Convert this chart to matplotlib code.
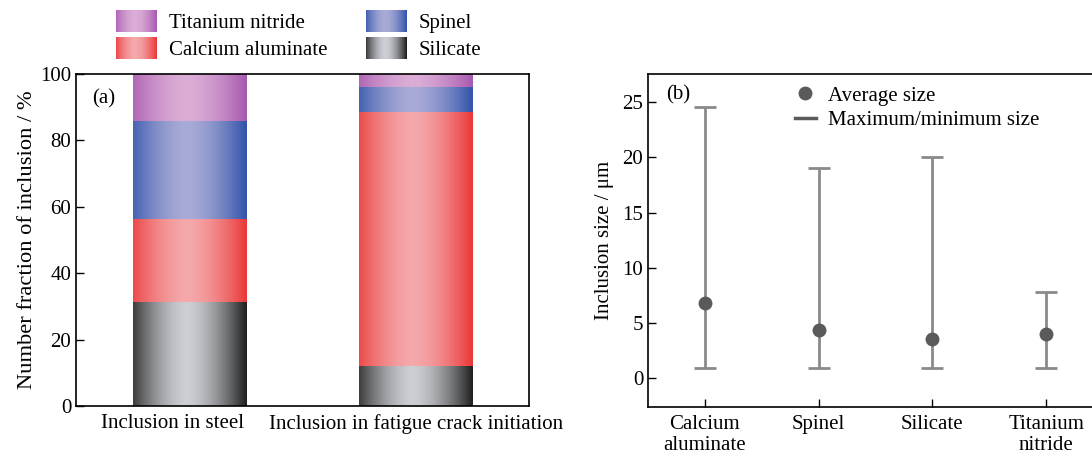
import numpy as np
import matplotlib
matplotlib.use("Agg")
import matplotlib.pyplot as plt
from matplotlib.patches import Rectangle
from matplotlib.legend_handler import HandlerBase
from matplotlib.lines import Line2D
from matplotlib.transforms import ScaledTranslation

plt.rcParams['font.family'] = ['Liberation Serif', 'DejaVu Serif']
plt.rcParams['mathtext.fontset'] = 'stix'

# ---------------- data ----------------
groups = ["Inclusion in steel", "Inclusion in fatigue crack initiation"]
stack_names = ["Silicate", "Calcium aluminate", "Spinel", "Titanium nitride"]
silicate = [31.3, 12.1]
calcium_aluminate = [25.1, 76.6]
spinel = [29.5, 7.4]
titanium_nitride = [14.1, 3.9]

size_types = ["Calcium\naluminate", "Spinel", "Silicate", "Titanium\nnitride"]
avg_size = [6.8, 4.35, 3.55, 4.05]
max_size = [24.6, 19.05, 20.05, 7.85]
min_size = [0.9, 0.9, 0.9, 0.9]

# gradient colours: (edge, centre)
grad_cols = {
    "Silicate": ((0.13, 0.13, 0.13), (0.80, 0.81, 0.83)),
    "Calcium aluminate": ((0.92, 0.22, 0.22), (0.96, 0.66, 0.67)),
    "Spinel": ((0.20, 0.33, 0.67), (0.66, 0.67, 0.84)),
    "Titanium nitride": ((0.66, 0.35, 0.69), (0.86, 0.68, 0.84)),
}


def grad_row(name, n=64):
    e, c = np.array(grad_cols[name][0]), np.array(grad_cols[name][1])
    x = np.linspace(0, 1, n)
    t = np.abs(x - 0.47) / 0.53
    t = np.clip(t, 0, 1) ** 1.6
    return c[None, :] + (e - c)[None, :] * t[:, None]


FS = 15
fig = plt.figure(figsize=(10.92, 4.55), dpi=100)
axa = fig.add_axes([76 / 1092, 1 - 406 / 455, 453 / 1092, 332 / 455])
axb = fig.add_axes([648 / 1092, 1 - 406.5 / 455, 455 / 1092, 332.5 / 455])

# ---------------- panel (a) ----------------
xpos = np.arange(len(groups))
bottom = np.zeros(len(groups))
series = {"Silicate": silicate, "Calcium aluminate": calcium_aluminate,
          "Spinel": spinel, "Titanium nitride": titanium_nitride}
for name in stack_names:
    vals = np.array(series[name])
    bars = axa.bar(xpos, vals, 0.5, bottom=bottom, color=grad_cols[name][0],
                   linewidth=0, zorder=1)
    img = grad_row(name)[None, :, :]
    for r in bars:
        x0, y0 = r.get_x(), r.get_y()
        axa.imshow(img, extent=[x0, x0 + r.get_width(), y0, y0 + r.get_height()],
                   aspect='auto', interpolation='bilinear', zorder=2)
    bottom = bottom + vals

axa.set_xlim(-0.5, 1.5)
axa.set_ylim(0, 100)
axa.set_xticks(xpos)
axa.set_xticklabels(groups, fontsize=FS)
axa.set_yticks(np.arange(0, 101, 20))
axa.tick_params(axis='both', direction='in', length=6, width=1, labelsize=FS)
axa.tick_params(axis='x', length=5, pad=6)
# first label sits slightly left in the original
lab0 = axa.get_xticklabels()[0]
lab0.set_transform(lab0.get_transform() + ScaledTranslation(-17 / 100, 0, fig.dpi_scale_trans))
axa.set_ylabel("Number fraction of inclusion / %", fontsize=16.2, labelpad=2)
axa.text(0.035, 0.955, "(a)", transform=axa.transAxes, fontsize=FS, va='top', ha='left')
for s in axa.spines.values():
    s.set_linewidth(1.2)
    s.set_zorder(5)


class HandlerGradient(HandlerBase):
    def __init__(self, name):
        super().__init__()
        self.name = name

    def create_artists(self, legend, orig_handle, xdescent, ydescent, width,
                       height, fontsize, trans):
        cols = grad_row(self.name, 40)
        n = len(cols)
        arts = []
        for i, c in enumerate(cols):
            arts.append(Rectangle((-xdescent + width * i / n, -ydescent - 0.15 * height),
                                  width / n * 1.05, height * 1.3, facecolor=c,
                                  edgecolor='none', transform=trans))
        return arts


leg_order = ["Titanium nitride", "Calcium aluminate", "Spinel", "Silicate"]
handles = [Rectangle((0, 0), 1, 1) for _ in leg_order]
hmap = {h: HandlerGradient(n) for h, n in zip(handles, leg_order)}
fig.legend(handles, leg_order, handler_map=hmap, ncol=2, frameon=False,
           loc='upper left', bbox_to_anchor=(103 / 1092, 1.0), fontsize=FS,
           handlelength=2.0, handleheight=0.9, handletextpad=0.55,
           columnspacing=1.85, labelspacing=0.3, borderaxespad=0.2)

# ---------------- panel (b) ----------------
xs = np.arange(len(size_types))
avg = np.array(avg_size)
lo = avg - np.array(min_size)
hi = np.array(max_size) - avg
axb.errorbar(xs, avg, yerr=[lo, hi], fmt='none', ecolor='#8a8a8a',
             elinewidth=2.0, capsize=8, capthick=2.0, zorder=2)
axb.plot(xs, avg, 'o', color='#5a5a5a', markersize=9, zorder=3)
axb.set_xlim(-0.5, 3.5)
axb.set_ylim(-2.55, 27.55)
axb.set_xticks(xs)
axb.set_xticklabels(size_types, fontsize=FS, linespacing=1.15)
axb.set_yticks(np.arange(0, 26, 5))
axb.tick_params(axis='both', direction='in', length=6, width=1, labelsize=FS)
axb.tick_params(axis='x', pad=6)
axb.set_ylabel("Inclusion size / μm", fontsize=FS, labelpad=6)
axb.text(0.04, 0.965, "(b)", transform=axb.transAxes, fontsize=FS, va='top', ha='left')
for s in axb.spines.values():
    s.set_linewidth(1.2)

lh = [Line2D([], [], marker='o', color='#5a5a5a', linestyle='none', markersize=9),
      Line2D([], [], color='#5a5a5a', linewidth=2.5)]
axb.legend(lh, ["Average size", "Maximum/minimum size"], frameon=False,
           loc='upper left', bbox_to_anchor=(0.282, 1.02), fontsize=FS,
           handlelength=1.0, handletextpad=0.6, labelspacing=0.25)

fig.savefig("out.png", dpi=100)
